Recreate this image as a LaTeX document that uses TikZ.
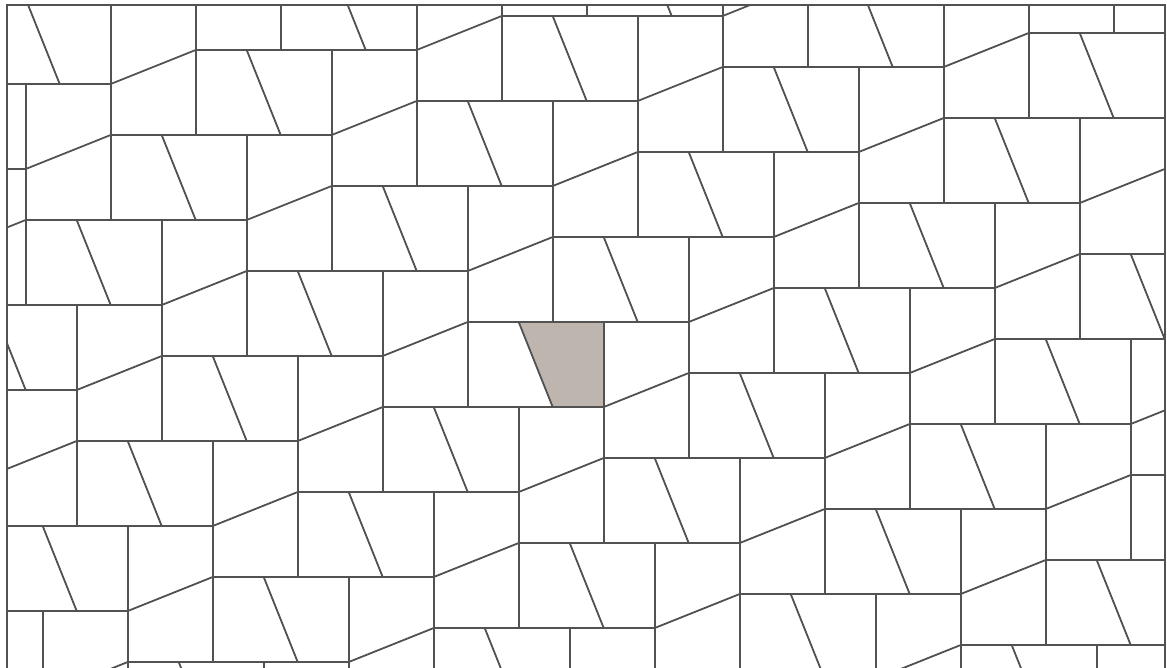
\documentclass[tikz,border=0pt]{standalone}
\usepackage{tikz}
\definecolor{tilegrey}{RGB}{190,181,175}
\definecolor{edgegrey}{RGB}{82,82,82}

\begin{document}
\begin{tikzpicture}[x=1pt,y=-1pt,
  tileline/.style={draw=edgegrey, line width=1.8pt},
  marked/.style={fill=tilegrey}]
\useasboundingbox (0,0) rectangle (1167,668);
% Marked trapezoid
\fill[marked] (518.7,322) -- (603.7,322) -- (603.7,407) -- (552.7,407) -- cycle;
% Tiling: horizontal pair + vertical pair per lattice cell
\begin{scope}
\clip (7,5) rectangle (1165,680);
\foreach \m in {-12,...,12} {
  \foreach \n in {-5,...,5} {
    \pgfmathsetmacro{\px}{467.7+85*\m-221*\n}
    \pgfmathsetmacro{\py}{322-85*\m-51*\n}
    % horizontal pair, slanted cut
    \draw[tileline] (\px,\py) rectangle ++(136,85);
    \draw[tileline] (\px+51,\py) -- (\px+85,\py+85);
    % vertical pair, sloped cut
    \draw[tileline] (\px+136,\py) rectangle ++(85,136);
    \draw[tileline] (\px+136,\py+85) -- (\px+221,\py+51);
  }
}
\end{scope}
% Frame
\draw[tileline] (7,680) -- (7,5) -- (1165,5) -- (1165,680);
\end{tikzpicture}
\end{document}
